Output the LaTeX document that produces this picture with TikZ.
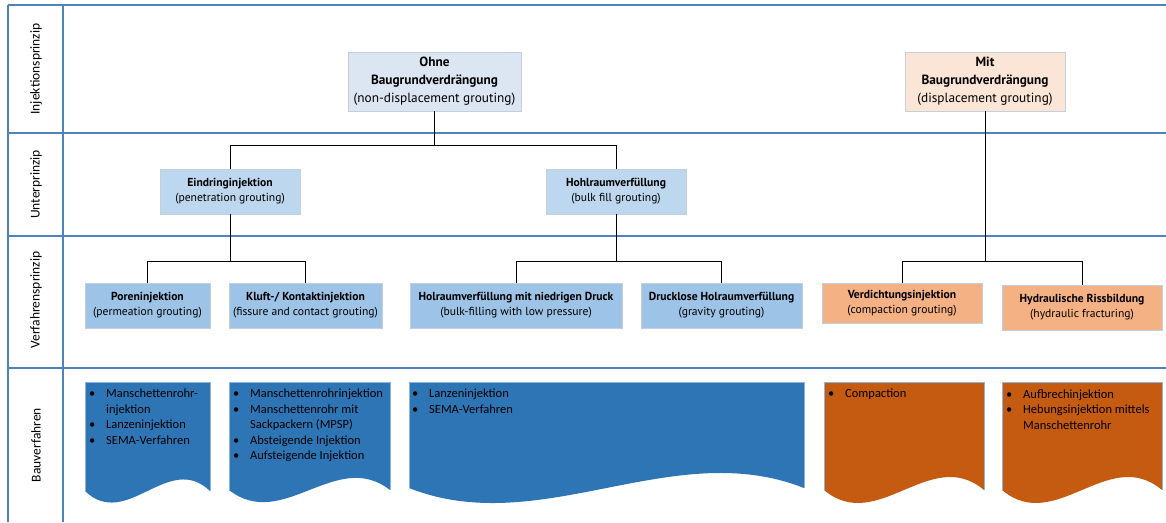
\documentclass[tikz,border=0pt]{standalone}
\usepackage{fontspec}
\setmainfont{Carlito}
\newfontfamily\boxfont{PT Sans}
\usetikzlibrary{shadows}

\definecolor{gridline}{HTML}{4F81BD}
\definecolor{boxedge}{HTML}{C3CFDD}
\definecolor{paleblue}{HTML}{DCE6F2}
\definecolor{palepeach}{HTML}{FBE5D6}
\definecolor{lightblue}{HTML}{BDD7EE}
\definecolor{midblue}{HTML}{9DC3E6}
\definecolor{salmon}{HTML}{F4B183}
\definecolor{deepblue}{HTML}{2E75B6}
\definecolor{rust}{HTML}{C55A11}
\definecolor{waveedge}{HTML}{8FB4DA}

% wavy "document" block: left x, right x, wave mid line, control offset, fill colour
\newcommand\waveblock[5]{%
  \fill[#5] (#1,382) -- (#2,382) -- (#2,#3)
    .. controls ({#1+2*(#2-#1)/3},{#3-#4}) and ({#1+(#2-#1)/3},{#3+#4}) .. (#1,#3) -- cycle;
  \draw[waveedge, line width=0.5pt] (#1,#3) -- (#1,382) -- (#2,382) -- (#2,#3);
}
\newcommand\bitem[1]{\makebox[17pt][l]{\textbullet}#1}
\newcommand\bcont[1]{\hspace*{17pt}#1}

\begin{document}
\begin{tikzpicture}[x=1pt, y=-1pt,
  grid/.style={draw=gridline, line width=1.4pt},
  rowlabel/.style={rotate=90, font=\fontsize{13.5}{15}\selectfont},
  box/.style={draw=boxedge, line width=0.6pt, align=center, inner sep=1pt,
    drop shadow={shadow xshift=1pt, shadow yshift=-1pt, opacity=0.18}},
  bigbox/.style={box, minimum height=59pt, font=\boxfont\fontsize{13.3}{18}\selectfont},
  smallbox/.style={box, minimum height=45pt, font=\boxfont\fontsize{11.6}{15}\selectfont},
  conn/.style={draw=black, line width=0.8pt},
  bullets/.style={anchor=north west, inner sep=0pt, align=left,
    font=\fontsize{12.5}{15.5}\selectfont}
]
\useasboundingbox (0,0) rectangle (1166,522);

% table grid
\draw[grid] (8,5) -- (8,522);
\draw[grid] (63,5) -- (63,522);
\foreach \yy in {5,133,236,368} \draw[grid] (8,\yy) -- (1166,\yy);

% row headings
\node[rowlabel] (r1) at (36,69) {Injektionsprinzip};
\node[rowlabel] (r2) at (36,184.5) {Unterprinzip};
\node[rowlabel] (r3) at (36,300) {Verfahrensprinzip};
\node[rowlabel] (r4) at (36,445) {Bauverfahren};

% level 1
\node[bigbox, fill=paleblue, minimum width=173pt] (ohne) at (434.5,81.5)
  {\textbf{Ohne}\\\textbf{Baugrundverdrängung}\\(non-displacement grouting)};
\node[bigbox, fill=palepeach, minimum width=160pt] (mit) at (985,81.5)
  {\textbf{Mit}\\\textbf{Baugrundverdrängung}\\(displacement grouting)};

% level 2
\node[smallbox, fill=lightblue, minimum width=140pt] (eindring) at (230,191.5)
  {\textbf{Eindringinjektion}\\(penetration grouting)};
\node[smallbox, fill=lightblue, minimum width=140pt] (hohlraum) at (616,191.5)
  {\textbf{Hohlraumverfüllung}\\(bulk fill grouting)};

% level 3
\node[smallbox, fill=midblue, minimum width=125pt] (poren) at (147.5,305.5)
  {\textbf{Poreninjektion}\\(permeation grouting)};
\node[smallbox, fill=midblue, minimum width=153pt] (kluft) at (305.5,305.5)
  {\textbf{Kluft-/ Kontaktinjektion}\\(fissure and contact grouting)};
\node[smallbox, fill=midblue, minimum width=212pt] (niedrig) at (516,305.5)
  {\textbf{Holraumverfüllung mit niedrigen Druck}\\(bulk-filling with low pressure)};
\node[smallbox, fill=midblue, minimum width=161pt] (drucklos) at (721.5,305.5)
  {\textbf{Drucklose Holraumverfüllung}\\(gravity grouting)};
\node[smallbox, fill=salmon, minimum width=160pt, minimum height=40pt] (verdicht) at (902,303)
  {\textbf{Verdichtungsinjektion}\\(compaction grouting)};
\node[smallbox, fill=salmon, minimum width=160pt] (hydraul) at (1082,307.5)
  {\textbf{Hydraulische Rissbildung}\\(hydraulic fracturing)};

% connectors
\draw[conn] (ohne.south) -- ++(0,34) -| (eindring.north);
\draw[conn] (ohne.south) -- ++(0,34) -| (hohlraum.north);
\draw[conn] (eindring.south) -- ++(0,47) -| (poren.north);
\draw[conn] (eindring.south) -- ++(0,47) -| (kluft.north);
\draw[conn] (hohlraum.south) -- ++(0,47) -| (niedrig.north);
\draw[conn] (hohlraum.south) -- ++(0,47) -| (drucklos.north);
\draw[conn] (mit.south) -- ++(0,150) -| (verdicht.north);
\draw[conn] (mit.south) -- ++(0,150) -| (hydraul.north);

% construction methods
\waveblock{85}{210}{491}{40}{deepblue}
\waveblock{229}{390}{490}{42}{deepblue}
\waveblock{409}{804}{488}{52}{deepblue}
\waveblock{824}{984}{490}{45}{rust}
\waveblock{1002}{1162}{490}{45}{rust}

\node[bullets] (m1) at (89,389)
  {\bitem{Manschettenrohr-}\\\bcont{injektion}\\\bitem{Lanzeninjektion}\\\bitem{SEMA-Verfahren}};
\node[bullets] (m2) at (233,389)
  {\bitem{Manschettenrohrinjektion}\\\bitem{Manschettenrohr mit}\\\bcont{Sackpackern (MPSP)}\\\bitem{Absteigende Injektion}\\\bitem{Aufsteigende Injektion}};
\node[bullets] (m3) at (412,389)
  {\bitem{Lanzeninjektion}\\\bitem{SEMA-Verfahren}};
\node[bullets] (m4) at (828,389)
  {\bitem{Compaction}};
\node[bullets] (m5) at (1006,389)
  {\bitem{Aufbrechinjektion}\\\bitem{Hebungsinjektion mittels}\\\bcont{Manschettenrohr}};
\end{tikzpicture}
\end{document}
